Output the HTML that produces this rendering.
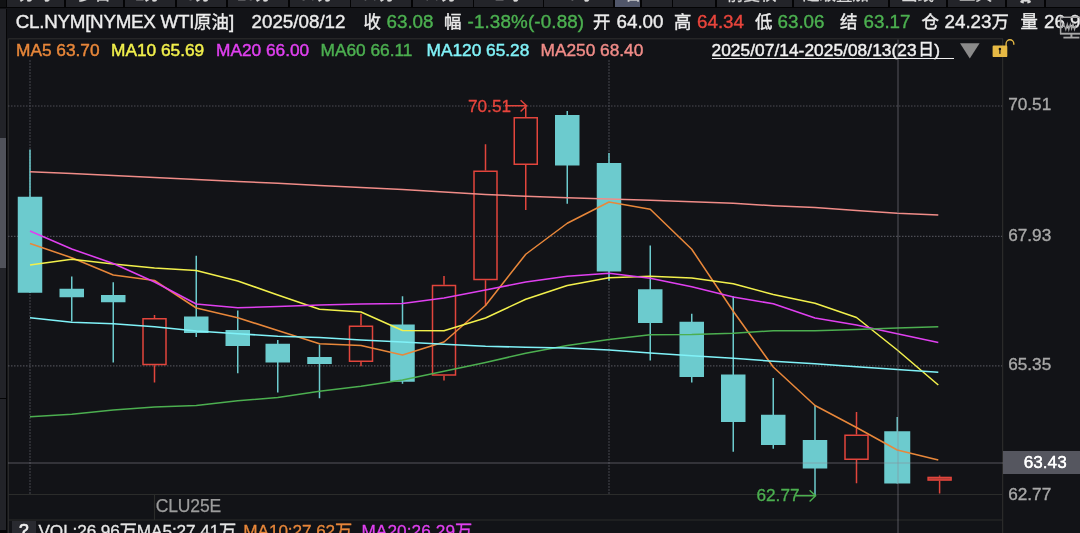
<!DOCTYPE html>
<html lang="zh"><head><meta charset="utf-8"><title>CL.NYM NYMEX WTI原油</title>
<style>
html,body{margin:0;padding:0;background:#121317;}
body{width:1080px;height:533px;overflow:hidden;position:relative;font-family:"Liberation Sans","Noto Sans CJK SC",sans-serif;color:#e6e6e6;}
#chart{position:absolute;left:0;top:0;}
.t{position:absolute;white-space:pre;line-height:1;}
.hd{top:13px;font-size:18.8px;-webkit-text-stroke:0.4px currentColor;}
.lg{top:41.8px;font-size:17.3px;-webkit-text-stroke:0.45px currentColor;}
.cj{position:relative;top:-0.5px;font-size:17.4px}
.w{color:#ececec}.g{color:#4cb050}.r{color:#e8453c}
.tab{position:absolute;top:0;height:6.5px;background:#232429;overflow:hidden;}
.tab.sel{background:#50566a;}
.tabt{position:absolute;top:-13.8px;font-size:16.5px;-webkit-text-stroke:0.3px currentColor;line-height:1;color:#d8d8d8;white-space:pre;}
#tabs{position:absolute;left:0;top:0;width:1080px;height:7.7px;background:#040405;overflow:hidden;}
#lstrip{position:absolute;left:0;top:8.7px;width:5.9px;height:521px;background:#222328;border-right:1.3px solid #050506;}
#lthumb{position:absolute;left:0;top:138px;width:5.7px;height:130px;background:#50525a;}
.ax{position:absolute;left:1008.2px;font-size:17.2px;line-height:1;color:#a8a8a8;white-space:pre;-webkit-text-stroke:0.35px currentColor;}
</style></head><body>
<svg id="chart" width="1080" height="533" viewBox="0 0 1080 533">
<g fill="none" stroke="#30302f" stroke-width="1">
<path d="M8.3 533V38.8H1003"/>
<path d="M1002.7 38.8V533"/>
</g>
<g stroke="#4c4d54" stroke-width="1.2" stroke-dasharray="1.5 1.5" fill="none">
<path d="M8 106H1002"/>
<path d="M8 236.3H1002"/>
<path d="M8 365.9H1002"/>
<path d="M30 60.3V494"/>
<path d="M609 60.3V494"/>
</g>
<g stroke="#2b2c2b" stroke-width="1.1" fill="none">
<path d="M8 494.5H1002"/>
<path d="M8 520H1002"/>
<path d="M154.5 494.5V520"/>
</g>
<path d="M30 149.5V292.75" stroke="#6ccbce" stroke-width="1.5"/>
<rect x="17.75" y="196.75" width="24.5" height="96.0" fill="#6ccbce"/>
<path d="M71.75 276.5V321.5" stroke="#6ccbce" stroke-width="1.5"/>
<rect x="59.5" y="288.75" width="24.5" height="8.5" fill="#6ccbce"/>
<path d="M113.25 282.25V362.5" stroke="#6ccbce" stroke-width="1.5"/>
<rect x="101.0" y="295" width="24.5" height="7.25" fill="#6ccbce"/>
<path d="M154.5 315V318M154.5 365.25V382.5" stroke="#e2453c" stroke-width="1.5"/>
<rect x="143.0" y="318.75" width="23.0" height="45.75" fill="none" stroke="#e2453c" stroke-width="1.5"/>
<path d="M196.25 255.75V337" stroke="#6ccbce" stroke-width="1.5"/>
<rect x="184.0" y="316.5" width="24.5" height="16.5" fill="#6ccbce"/>
<path d="M237.75 310.5V373.25" stroke="#6ccbce" stroke-width="1.5"/>
<rect x="225.5" y="330" width="24.5" height="16" fill="#6ccbce"/>
<path d="M277.75 340V392.5" stroke="#6ccbce" stroke-width="1.5"/>
<rect x="265.5" y="343.75" width="24.5" height="18.75" fill="#6ccbce"/>
<path d="M319.5 344.5V398.25" stroke="#6ccbce" stroke-width="1.5"/>
<rect x="307.25" y="357" width="24.5" height="7" fill="#6ccbce"/>
<path d="M361 313.75V325.5M361 362V366.25" stroke="#e2453c" stroke-width="1.5"/>
<rect x="349.5" y="326.25" width="23.0" height="35.0" fill="none" stroke="#e2453c" stroke-width="1.5"/>
<path d="M402.5 296.25V383.75" stroke="#6ccbce" stroke-width="1.5"/>
<rect x="390.25" y="324.5" width="24.5" height="57.25" fill="#6ccbce"/>
<path d="M444 276V284.75M444 375.75V380.5" stroke="#e2453c" stroke-width="1.5"/>
<rect x="432.5" y="285.5" width="23.0" height="89.5" fill="none" stroke="#e2453c" stroke-width="1.5"/>
<path d="M485.5 144.25V170.5M485.5 280.25V306" stroke="#e2453c" stroke-width="1.5"/>
<rect x="474.0" y="171.25" width="23.0" height="108.25" fill="none" stroke="#e2453c" stroke-width="1.5"/>
<path d="M525.75 105V117M525.75 165V210" stroke="#e2453c" stroke-width="1.5"/>
<rect x="514.25" y="117.75" width="23.0" height="46.5" fill="none" stroke="#e2453c" stroke-width="1.5"/>
<path d="M567.25 111V203.75" stroke="#6ccbce" stroke-width="1.5"/>
<rect x="555.0" y="115" width="24.5" height="50.5" fill="#6ccbce"/>
<path d="M609 153V280.75" stroke="#6ccbce" stroke-width="1.5"/>
<rect x="596.75" y="163" width="24.5" height="108.5" fill="#6ccbce"/>
<path d="M650.25 245.5V360.5" stroke="#6ccbce" stroke-width="1.5"/>
<rect x="638.0" y="289.25" width="24.5" height="33.75" fill="#6ccbce"/>
<path d="M691.75 313.75V382.5" stroke="#6ccbce" stroke-width="1.5"/>
<rect x="679.5" y="321.75" width="24.5" height="55.25" fill="#6ccbce"/>
<path d="M733.25 296.25V451.75" stroke="#6ccbce" stroke-width="1.5"/>
<rect x="721.0" y="374.5" width="24.5" height="47.5" fill="#6ccbce"/>
<path d="M773.25 378V448.75" stroke="#6ccbce" stroke-width="1.5"/>
<rect x="761.0" y="414.75" width="24.5" height="30.25" fill="#6ccbce"/>
<path d="M815 405V495.5" stroke="#6ccbce" stroke-width="1.5"/>
<rect x="802.75" y="440" width="24.5" height="28.5" fill="#6ccbce"/>
<path d="M856.5 412V434.5M856.5 460V483.25" stroke="#e2453c" stroke-width="1.5"/>
<rect x="845.0" y="435.25" width="23.0" height="24.0" fill="none" stroke="#e2453c" stroke-width="1.5"/>
<path d="M897.25 417V483.5" stroke="#6ccbce" stroke-width="1.5"/>
<rect x="884.25" y="431.25" width="26.0" height="52.25" fill="#6ccbce"/>
<path d="M939.6 475.5V476.7M939.6 480.8V493.6" stroke="#e2453c" stroke-width="1.5"/>
<rect x="928.1" y="477.45" width="23.0" height="2.6000000000000227" fill="#a83a34" stroke="#e2453c" stroke-width="1.5"/>
<polyline points="30,243.5 71.75,257.75 113.25,275 154.5,280.5 196.25,308 237.75,317.75 277.75,330.5 319.5,343.75 361,345.5 402.5,355 444,342 485.5,305.5 525.75,254.25 567.25,223.25 609,202 650.25,209.25 691.75,249.25 733.25,311.25 773.25,367 815,405.5 856.5,427.5 897.25,450 938.3,460" fill="none" stroke="#e8873a" stroke-width="1.55" stroke-linejoin="round"/>
<polyline points="30,265 71.75,259.25 113.25,264 154.5,268 196.25,270.5 237.75,281 277.75,295 319.5,309.25 361,312 402.5,330.5 444,330.75 485.5,318 525.75,299.25 567.25,285.5 609,277.75 650.25,276.25 691.75,278 733.25,283.75 773.25,294.5 815,303.25 856.5,317.5 897.25,350 938.3,385" fill="none" stroke="#f2f04c" stroke-width="1.55" stroke-linejoin="round"/>
<polyline points="30,231 71.75,249 113.25,263.5 154.5,282 196.25,304 237.75,307.75 277.75,306.5 319.5,305 361,304 402.5,303.5 444,298 485.5,290 525.75,282 567.25,276.25 609,273.25 650.25,278.25 691.75,286.75 733.25,297 773.25,303.75 815,318 856.5,325 897.25,333.75 938.3,342.5" fill="none" stroke="#e040f0" stroke-width="1.55" stroke-linejoin="round"/>
<polyline points="30,416.75 71.75,414.25 113.25,410 154.5,407 196.25,405.5 237.75,400.75 277.75,397.5 319.5,391.25 361,386.25 402.5,380 444,371.25 485.5,362.5 525.75,353.25 567.25,345.5 609,339.5 650.25,334.75 691.75,334.5 733.25,333.25 773.25,330.75 815,330.75 856.5,329.5 897.25,328 938.3,326.75" fill="none" stroke="#4caf50" stroke-width="1.55" stroke-linejoin="round"/>
<polyline points="30,317.75 71.75,322.25 113.25,323.75 154.5,326.75 196.25,331 237.75,333.75 277.75,336.25 319.5,337.5 361,340 402.5,342 444,344.25 485.5,346.25 525.75,347.25 567.25,348 609,350 650.25,353 691.75,355.75 733.25,358.25 773.25,361.25 815,363.75 856.5,366.75 897.25,369.5 938.3,372.25" fill="none" stroke="#80f2f8" stroke-width="1.55" stroke-linejoin="round"/>
<polyline points="30,171.75 71.75,173.5 113.25,175.5 154.5,177.5 196.25,179.5 237.75,181.5 277.75,183.3 319.5,185.5 361,187.5 402.5,189.5 444,192 485.5,194.5 525.75,196.3 567.25,197.7 609,199 650.25,200.3 691.75,201.8 733.25,203.25 773.25,205.75 815,207.5 856.5,210.5 897.25,213.25 938.3,215" fill="none" stroke="#f08c88" stroke-width="1.55" stroke-linejoin="round"/>
<g stroke="#8a8b96" stroke-opacity="0.37" stroke-width="1.5" fill="none">
<path d="M898 39.5V533"/>
<path d="M8 463H1003"/>
</g>
<g stroke="#e2453c" stroke-width="1.4" fill="none"><path d="M505 105.8H526.4M520.6 100.2L526.6 105.8L520.6 111.6"/></g>
<g stroke="#4cb050" stroke-width="1.4" fill="none"><path d="M795.5 495.8H815.4M809.6 490.2L815.6 495.8L809.6 501.6"/></g>
</svg>
<div id="tabs">
<div style="position:absolute;left:0;top:0;width:6px;height:6.8px;background:#111214"></div>
<div class="tab" style="left:7px;width:57px"></div>
<span class="tabt" style="left:19px">分时</span>
<div class="tab" style="left:66px;width:57px"></div>
<span class="tabt" style="left:78px">多日</span>
<div class="tab" style="left:125px;width:50px"></div>
<span class="tabt" style="left:135px">1分</span>
<div class="tab" style="left:177px;width:49px"></div>
<span class="tabt" style="left:186px">5分</span>
<div class="tab" style="left:228px;width:60px"></div>
<span class="tabt" style="left:237px">15分</span>
<div class="tab" style="left:289.5px;width:60.0px"></div>
<span class="tabt" style="left:299px">30分</span>
<div class="tab" style="left:351px;width:60px"></div>
<span class="tabt" style="left:361px">60分</span>
<div class="tab" style="left:413px;width:59.5px"></div>
<span class="tabt" style="left:423px">90分</span>
<div class="tab" style="left:474px;width:68.5px"></div>
<span class="tabt" style="left:495px">2时</span>
<div class="tab" style="left:544px;width:69px"></div>
<span class="tabt" style="left:566px">4时</span>
<div class="tab sel" style="left:614.5px;width:25.5px"></div>
<span class="tabt" style="left:625px">日</span>
<div class="tab" style="left:642px;width:29.700000000000045px"></div>
<div class="tab" style="left:673.3px;width:41.700000000000045px"></div>
<div class="tab" style="left:716.7px;width:75.29999999999995px"></div>
<span class="tabt" style="left:727px">前复权</span>
<div class="tab" style="left:794px;width:93.5px"></div>
<span class="tabt" style="left:803px">超级叠加</span>
<div class="tab" style="left:889.5px;width:56.5px"></div>
<span class="tabt" style="left:901px">画线</span>
<div class="tab" style="left:948px;width:57px"></div>
<span class="tabt" style="left:959px">工具</span>
<div class="tab" style="left:1007px;width:37px"></div>
<div class="tab" style="left:1046px;width:34px"></div>
<svg style="position:absolute;left:1010px;top:0" width="32" height="7" viewBox="1010 0 32 7"><g fill="none" stroke="#d8d8d8"><circle cx="1025.6" cy="-6.4" r="7" stroke-width="2.4"/><circle cx="1025.6" cy="-6.4" r="9" stroke-width="2.2" stroke-dasharray="3.5 3.57" stroke-dashoffset="-1.74"/></g></svg>
</div>
<div id="lstrip"></div><div id="lthumb"></div>
<div style="position:absolute;left:0;top:529.7px;width:7.2px;height:4px;background:#050506"></div>
<div style="position:absolute;left:0;top:398.3px;width:5.9px;height:1.2px;background:#050506"></div>
<span class="t hd w" style="left:15.8px"><span style="letter-spacing:-0.27px">CL.NYM[NYMEX WTI</span><span class="cj">原油</span>]</span>
<span class="t hd w" style="left:251.5px">2025/08/12</span>
<span class="t hd w" style="left:363.5px"><span class="cj">收</span></span>
<span class="t hd g" style="left:386.5px">63.08</span>
<span class="t hd w" style="left:444px"><span class="cj">幅</span></span>
<span class="t hd g" style="left:467.5px"><span style="letter-spacing:0.15px">-1.38%(-0.88)</span></span>
<span class="t hd w" style="left:593px"><span class="cj">开</span></span>
<span class="t hd w" style="left:616.5px">64.00</span>
<span class="t hd w" style="left:674px"><span class="cj">高</span></span>
<span class="t hd r" style="left:697px">64.34</span>
<span class="t hd w" style="left:755px"><span class="cj">低</span></span>
<span class="t hd g" style="left:777.5px">63.06</span>
<span class="t hd w" style="left:840px"><span class="cj">结</span></span>
<span class="t hd g" style="left:863.5px">63.17</span>
<span class="t hd w" style="left:921.5px"><span class="cj">仓</span></span>
<span class="t hd w" style="left:944.5px">24.23<span class="cj">万</span></span>
<span class="t hd w" style="left:1020.5px"><span class="cj">量</span></span>
<span class="t hd w" style="left:1044px">26.96万</span>
<span class="t lg" style="left:16px;color:#e8873a">MA5 63.70</span>
<span class="t lg" style="left:111px;color:#f2f04c">MA10 65.69</span>
<span class="t lg" style="left:216px;color:#e040f0">MA20 66.00</span>
<span class="t lg" style="left:320.5px;color:#4caf50">MA60 66.11</span>
<span class="t lg" style="left:426.5px;color:#80f2f8">MA120 65.28</span>
<span class="t lg" style="left:540.5px;color:#f08c88">MA250 68.40</span>
<span class="t lg" style="left:711.5px;color:#f0f0f0;letter-spacing:0.06px">2025/07/14-2025/08/13(23<span style="font-size:15.6px;position:relative;top:-0.6px;margin:0 0.3px 0 1.6px">日</span>)</span>
<div style="position:absolute;left:711.8px;top:58px;width:242px;height:1.3px;background:#f0f0f0"></div>
<svg style="position:absolute;left:958px;top:36px" width="60" height="26" viewBox="958 36 60 26"><path d="M960 43.3H979.6L969.8 58.4Z" fill="#8a8a8a"/>
<rect x="992.6" y="45.6" width="14.7" height="11.5" rx="1.2" fill="#e6b944"/><path d="M1006.1 46V43.6A3.85 3.85 0 0 1 1013.8 43.6V44.8" fill="none" stroke="#e6b944" stroke-width="1.35"/><circle cx="999.9" cy="48.9" r="1.25" fill="#121317"/><rect x="999.3" y="49.2" width="1.2" height="4.7" fill="#121317"/></svg>
<svg style="position:absolute;left:1056px;top:14px" width="24" height="26" viewBox="1056 14 24 26"><g fill="none" stroke="#a6a6a6"><path d="M1080 17.3H1060.6V33.6H1080" stroke-width="1.5"/><path d="M1060 33.9H1080" stroke-width="1.3"/><path d="M1071.4 34V37.4" stroke-width="2"/><path d="M1063.4 37.6H1079.4" stroke-width="1.8"/><path d="M1061.4 21.8L1064 25L1061.4 28.2M1064.4 25.6L1065.8 29.6L1067.3 24L1068.8 29.8L1070.3 24.2L1071.6 29L1073 24L1074.5 29.6L1076 25" stroke-width="1.2"/></g></svg>
<span class="ax" style="top:96.3px">70.51</span>
<span class="ax" style="top:226.8px">67.93</span>
<span class="ax" style="top:356.3px">65.35</span>
<span class="ax" style="top:485.8px">62.77</span>
<div style="position:absolute;left:1003.2px;top:450.9px;width:77px;height:23.2px;background:#55565f"></div>
<span class="t" style="left:1023.7px;top:453.6px;font-size:17.2px;-webkit-text-stroke:0.3px currentColor;color:#fff;text-shadow:0 0 0.4px #fff">63.43</span>
<span class="t r" style="left:468px;top:97.7px;font-size:17.2px;-webkit-text-stroke:0.3px currentColor">70.51</span>
<span class="t g" style="left:756.5px;top:486.8px;font-size:17.2px;-webkit-text-stroke:0.3px currentColor">62.77</span>
<span class="t" style="left:155.7px;top:498.3px;font-size:17.5px;letter-spacing:-0.12px;color:#9c9c9c;-webkit-text-stroke:0.25px currentColor">CLU25E</span>
<div style="position:absolute;left:11.7px;top:520.6px;width:24px;height:13px;background:#292a30"></div>
<span class="t" style="left:18.9px;top:521.9px;font-size:17.4px;color:#f0f0f0;-webkit-text-stroke:0.7px currentColor">?</span>
<span class="t" style="left:38.5px;top:523.3px;font-size:17.2px;color:#e6e6e6;-webkit-text-stroke:0.3px currentColor;letter-spacing:-0.1px">VOL:26.96万MA5:27.41万 <span style="color:#e8873a;margin-left:2.5px">MA10:27.62万</span> <span style="color:#e040f0;margin-left:4.6px;letter-spacing:0.1px">MA20:26.29万</span></span>
</body></html>
